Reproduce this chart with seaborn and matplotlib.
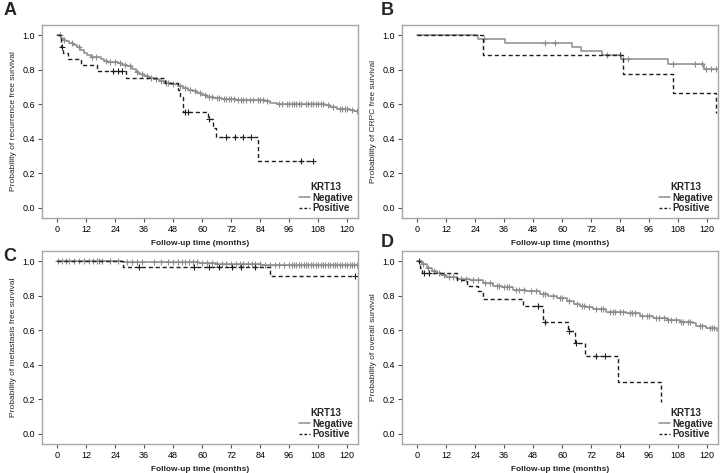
import numpy as np
import pandas as pd
import matplotlib
matplotlib.use("Agg")
import matplotlib.pyplot as plt
from matplotlib.lines import Line2D
import seaborn as sns

sns.set_theme(style="white")
plt.rcParams['font.family'] = ['Liberation Sans', 'DejaVu Sans']

# ---------------- data ----------------
x_ticks = [0, 12, 24, 36, 48, 60, 72, 84, 96, 108, 120]
y_ticks = [0.0, 0.2, 0.4, 0.6, 0.8, 1.0]
group_labels = ["Negative", "Positive"]
legend_title = "KRT13"
panel_letters = ["A", "B", "C", "D"]
y_titles = ["Probability of recurrence free survival",
            "Probability of CRPC free survival",
            "Probability of metastasis free survival",
            "Probability of overall survival"]
x_title = "Follow-up time (months)"

# Panel A: recurrence free survival
a_neg_t = [0, 1.5, 2.5, 3.5, 5, 6.5, 8, 9.5, 11, 12.5, 14, 18, 19.5, 21, 25, 27, 29, 31,
           32.5, 34, 36, 38, 40, 42, 44, 47, 50, 52, 54, 56, 58, 60, 62, 65, 68, 74, 86,
           88, 91, 111, 113, 116, 121, 123, 124.5]
a_neg_s = [1.0, 0.985, 0.975, 0.965, 0.955, 0.945, 0.93, 0.915, 0.90, 0.885, 0.875, 0.865,
           0.85, 0.845, 0.84, 0.83, 0.82, 0.805, 0.79, 0.775, 0.765, 0.755, 0.745, 0.735,
           0.725, 0.715, 0.705, 0.695, 0.685, 0.675, 0.665, 0.655, 0.645, 0.635, 0.63,
           0.627, 0.62, 0.61, 0.603, 0.593, 0.585, 0.575, 0.568, 0.56, 0.555]
a_neg_c = [1, 3, 6, 9, 14.5, 16, 20, 22, 24, 26, 28, 30, 33, 35, 37, 39, 41, 43, 45, 46,
           48, 51, 53, 55, 57, 59, 61, 63, 64, 66, 67, 69, 70, 71, 72, 73, 75, 76, 77, 78,
           80, 81, 83, 84, 85, 87, 92, 93, 95, 96, 97, 98, 99, 100, 101, 103, 104, 105,
           106, 107, 108, 109, 110, 112, 114, 117, 118, 119, 120, 122, 124]
a_pos_t = [0, 1.5, 2.5, 4.5, 10, 16.5, 28.4, 44.6, 49.8, 50.8, 52.1, 62.5, 64.6, 65.7, 83.2, 106]
a_pos_s = [1.0, 0.935, 0.90, 0.865, 0.83, 0.795, 0.755, 0.722, 0.68, 0.64, 0.557, 0.512,
           0.46, 0.41, 0.272, 0.272]
a_pos_c = [2, 23, 25, 27, 52.8, 54.2, 62.8, 70, 73.5, 77, 80.4, 101, 106]

# Panel B: CRPC free survival
b_neg_t = [0, 25.2, 36.3, 63.9, 67.6, 76.5, 84.3, 103.8, 118.6, 124.5]
b_neg_s = [1.0, 0.979, 0.956, 0.935, 0.912, 0.888, 0.863, 0.835, 0.806, 0.806]
b_neg_c = [27.6, 52.8, 57, 78.4, 85.2, 87.3, 106, 114.9, 117.7, 119.5, 121.5, 123.6]
b_pos_t = [0, 27.3, 85.2, 106, 123.6]
b_pos_s = [1.0, 0.888, 0.777, 0.667, 0.551]
b_pos_c = [84.0]

# Panel C: metastasis free survival
c_neg_t = [0, 27, 50.7, 58.7, 65.6, 72.5, 84.2, 124.5]
c_neg_s = [1.0, 0.998, 0.995, 0.99, 0.987, 0.984, 0.978, 0.978]
c_neg_c = [0.5, 2, 3.5, 5, 7, 9, 11, 13, 15, 16.5, 17.5, 18.5, 22, 25, 29, 31, 33, 35,
           40, 43, 46, 48, 50, 51.5, 53, 54.5, 56, 58, 60, 62, 64, 66, 68, 70, 72, 74,
           75.5, 77, 79, 80.5, 82, 84, 86, 88, 90, 92, 94, 96, 97, 98, 99, 100, 101, 102,
           103, 104, 105, 106, 107, 108, 109, 110, 111, 112, 113, 114, 115, 116, 117, 118,
           119, 120, 121, 122, 123, 124]
c_pos_t = [0, 27.3, 87.9, 123.4]
c_pos_s = [1.0, 0.965, 0.917, 0.917]
c_pos_c = [33.9, 56.6, 63, 67, 72.5, 76, 82, 123.4]

# Panel D: overall survival
d_neg_t = [0, 1.8, 3.9, 6, 8, 10, 12.1, 16.3, 21.8, 27.3, 31.4, 35, 39.7, 45.2, 50.7, 54,
           57.7, 61.8, 65, 67.3, 70, 72.8, 78.3, 86.6, 92.1, 97.6, 103.2, 108.7, 114.2,
           115.6, 119.7, 124]
d_neg_s = [1.0, 0.985, 0.96, 0.945, 0.932, 0.92, 0.91, 0.90, 0.89, 0.875, 0.858, 0.851,
           0.836, 0.825, 0.813, 0.80, 0.788, 0.768, 0.755, 0.743, 0.733, 0.726, 0.705,
           0.70, 0.685, 0.672, 0.658, 0.65, 0.645, 0.624, 0.616, 0.598]
d_neg_c = [2.5, 4.5, 7, 9, 11, 13, 15, 18, 20, 23, 25, 28, 30, 33, 34, 36, 37, 38, 41,
           42, 44, 47, 49, 52, 53, 56, 59, 60, 63, 66, 68, 69, 71, 74, 76, 77, 80, 81, 82,
           84, 85, 88, 89, 90, 93, 95, 96, 99, 100, 102, 104, 105, 107, 109, 110, 112,
           113, 117, 118, 121, 122, 123]
d_pos_t = [0, 1.1, 1.8, 16.3, 20.4, 25.2, 27.3, 43.9, 51.9, 62.5, 65.3, 69.4, 83.2, 101.1]
d_pos_s = [1.0, 0.96, 0.932, 0.894, 0.855, 0.826, 0.782, 0.739, 0.647, 0.595, 0.527,
           0.45, 0.301, 0.185]
d_pos_c = [0.6, 3, 5, 50, 52.8, 63, 65.8, 74.2, 77.7]

panels = [
    (a_neg_t, a_neg_s, a_neg_c, a_pos_t, a_pos_s, a_pos_c),
    (b_neg_t, b_neg_s, b_neg_c, b_pos_t, b_pos_s, b_pos_c),
    (c_neg_t, c_neg_s, c_neg_c, c_pos_t, c_pos_s, c_pos_c),
    (d_neg_t, d_neg_s, d_neg_c, d_pos_t, d_pos_s, d_pos_c),
]

NEG_COLOR = "#8c8c8c"
POS_COLOR = "#1e1e1e"
FRAME = "#a6a6a6"


def surv_at(times, surv, t):
    idx = np.searchsorted(np.asarray(times), np.asarray(t), side="right") - 1
    return np.asarray(surv)[np.clip(idx, 0, len(surv) - 1)]


fig = plt.figure(figsize=(7.2, 4.73), dpi=100)
W, H = 720.0, 473.0
positions = [(42, 25), (402, 25), (42, 251), (402, 251)]
letter_pos = [(4, 2), (381, 2), (3, 248), (381, 234)]

for i, (nt, ns, nc, pt, ps, pc) in enumerate(panels):
    px, py = positions[i]
    ax = fig.add_axes([px / W, 1 - (py + 193) / H, 316 / W, 193 / H])

    neg = pd.DataFrame({"t": nt, "s": ns})
    pos = pd.DataFrame({"t": pt, "s": ps})
    sns.lineplot(data=neg, x="t", y="s", ax=ax, color=NEG_COLOR, lw=1.1,
                 drawstyle="steps-post", estimator=None, sort=False)
    sns.lineplot(data=pos, x="t", y="s", ax=ax, color=POS_COLOR, lw=1.0,
                 drawstyle="steps-post", estimator=None, sort=False, dashes=False,
                 linestyle=(0, (3, 2)))
    negc = pd.DataFrame({"t": nc, "s": surv_at(nt, ns, nc)})
    posc = pd.DataFrame({"t": pc, "s": surv_at(pt, ps, pc)})
    sns.scatterplot(data=negc, x="t", y="s", ax=ax, marker="+", s=14, color=NEG_COLOR,
                    linewidth=0.8)
    sns.scatterplot(data=posc, x="t", y="s", ax=ax, marker="+", s=14, color=POS_COLOR,
                    linewidth=0.8)

    ax.set_xlim(-6.3, 124.5)
    ax.set_ylim(-0.06, 1.06)
    ax.set_xticks(x_ticks)
    ax.set_xticklabels([str(v) for v in x_ticks])
    ax.set_yticks(y_ticks)
    ax.set_yticklabels([f"{v:.1f}" for v in y_ticks])
    ax.tick_params(axis="both", which="both", length=3, width=0.8, color="#555555",
                   labelsize=6.5, pad=2, left=True, bottom=True, labelcolor="black")
    for sp in ax.spines.values():
        sp.set_color(FRAME)
        sp.set_linewidth(1.0)
    ax.set_xlabel(x_title, fontsize=6, fontweight="bold", labelpad=4)
    ax.set_ylabel(y_titles[i], fontsize=6, labelpad=4)

    handles = [Line2D([], [], color=NEG_COLOR, lw=1.1),
               Line2D([], [], color=POS_COLOR, lw=1.0, linestyle=(0, (2, 1.5)))]
    leg = ax.legend(handles, group_labels, title=legend_title, loc="lower right",
                    bbox_to_anchor=(1.0, 0.0), frameon=False,
                    prop={"size": 7, "weight": "bold"},
                    handlelength=1.2, handletextpad=0.2,
                    labelspacing=0.05, borderpad=0.3, borderaxespad=0.2)
    leg.get_title().set_fontsize(7)
    leg.get_title().set_fontweight("bold")
    lx, ly = letter_pos[i]
    fig.text(lx / W, 1 - ly / H, panel_letters[i], fontsize=13, fontweight="bold",
             ha="left", va="top")

fig.savefig("out.png", dpi=100)
